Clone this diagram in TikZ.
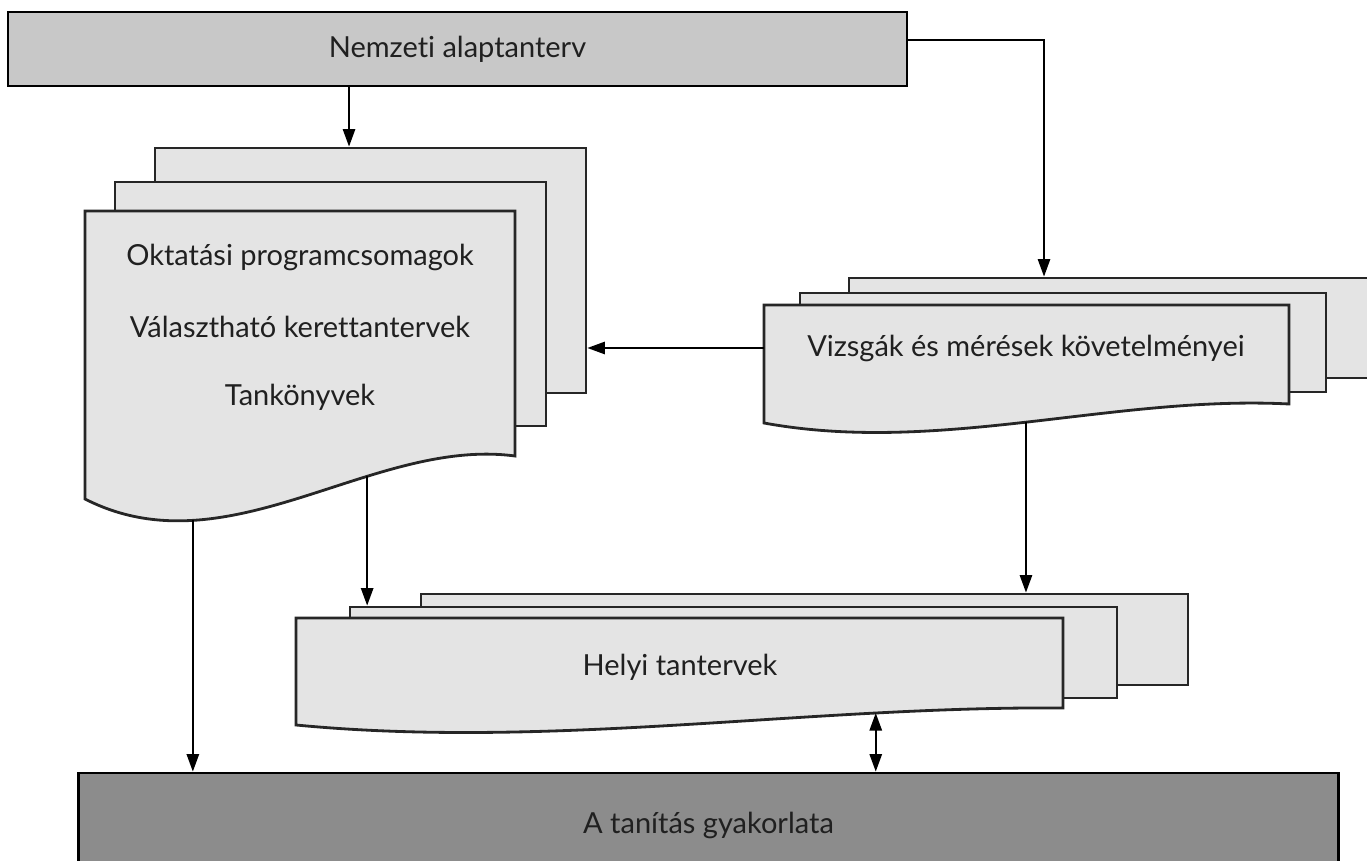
\documentclass[tikz,border=0pt]{standalone}
\usepackage{fontspec}
\setmainfont{Lato}[Ligatures={NoCommon}]
\usetikzlibrary{arrows.meta}
\definecolor{topgray}{HTML}{C8C8C8}
\definecolor{pagegray}{HTML}{E4E4E4}
\definecolor{pracgray}{HTML}{8C8C8C}
\definecolor{txt}{HTML}{202020}
\begin{document}
\begin{tikzpicture}[x=0.02cm,y=-0.02cm,
  box/.style={draw=black, line width=1.6pt},
  page/.style={draw=black!85, line width=1.6pt, fill=pagegray},
  arr/.style={line width=1.1pt, -{Triangle[width=7pt,length=10pt]}},
  arrtwo/.style={line width=1.1pt, {Triangle[width=7pt,length=10pt]}-{Triangle[width=7pt,length=10pt]}},
  lbl/.style={font=\fontsize{16.5}{19}\selectfont, text=txt, inner sep=0pt}]
\useasboundingbox (0,0) rectangle (1367,861);

% top box
\node[box, fill=topgray, minimum width=17.98cm, minimum height=1.48cm, inner sep=0pt, lbl] (nat) at (457.5,49) {Nemzeti alaptanterv};

% bottom box
\node[box, fill=pracgray, minimum width=25.22cm, minimum height=2.08cm, inner sep=0pt, lbl] (prac) at (708.5,825) {A tanítás gyakorlata};

% Oktatasi stack
\node[page, minimum width=8.62cm, minimum height=4.9cm, inner sep=0pt] (okt3) at (370.5,270.5) {};
\node[page, minimum width=8.62cm, minimum height=4.88cm, inner sep=0pt] (okt2) at (330.5,304) {};
\path[page] (515,211) -- (85,211) coordinate (okt-nw) -- (85,499)
  .. controls (228,572) and (372,437) .. (515,456)
  coordinate[pos=0.251] (okt-b1) coordinate[pos=0.656] (okt-b2) -- cycle;
\node[lbl] (okt-a) at (300,257) {Oktatási programcsomagok};
\node[lbl] (okt-b) at (300,327) {Választható kerettantervek};
\node[lbl] (okt-c) at (300,397) {Tankönyvek};

% Vizsgak stack
\node[page, minimum width=11.02cm, minimum height=2cm, inner sep=0pt] (viz3) at (1124.5,328) {};
\node[page, minimum width=10.52cm, minimum height=1.98cm, inner sep=0pt] (viz2) at (1063,342.5) {};
\path[page] (1289,305) -- (764,305) coordinate (viz-nw) -- (764,423)
  .. controls (939,455) and (1114,395) .. (1289,404)
  coordinate[pos=0.499] (viz-b) -- cycle;
\node[lbl] (viz) at (1026,348) {Vizsgák és mérések követelményei};

% Helyi stack
\node[page, minimum width=15.34cm, minimum height=1.82cm, inner sep=0pt] (hely3) at (804.5,639.5) {};
\node[page, minimum width=15.34cm, minimum height=1.82cm, inner sep=0pt] (hely2) at (733.5,652.5) {};
\path[page] (1063,618) -- (296,618) coordinate (hely-nw) -- (296,725)
  .. controls (552,749.5) and (807,706) .. (1063,708)
  coordinate[pos=0.756] (hely-b) -- cycle;
\node[lbl] (hely) at (680,667) {Helyi tantervek};

% connectors
\draw[arr] ([xshift=-2.17cm]nat.south) -- ([xshift=-2.17cm]nat.south |- okt3.north);
\draw[arr] ([yshift=0.18cm]nat.east) -| ([xshift=-1.61cm]viz3.north);
\draw[arr] (viz-nw |- viz) -- (okt3.east |- viz);
\draw[arr] (okt-b2) -- (okt-b2 |- hely2.north);
\draw[arr] (okt-b1) -- (okt-b1 |- prac.north);
\draw[arr] (viz-b) -- (viz-b |- hely3.north);
\draw[arrtwo] (hely-b) -- (hely-b |- prac.north);
\end{tikzpicture}
\end{document}
